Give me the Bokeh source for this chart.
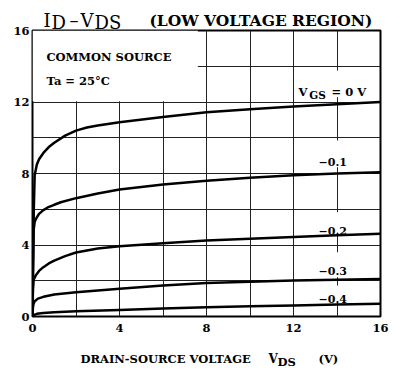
from bokeh.plotting import figure
from bokeh.models import Range1d, FixedTicker, Label
from bokeh.layouts import column
from bokeh.core.properties import value
from bokeh.embed import file_html
from bokeh.resources import INLINE

# ---- data ----
vds_0 = [0, 0.03, 0.06, 0.1, 0.2, 0.3, 0.5, 0.75, 1.0, 1.5, 2.0, 2.5, 3, 4, 6, 8, 10, 12, 14, 16]
id_0 = [0, 3.0, 6.0, 7.9, 8.5, 8.8, 9.15, 9.48, 9.72, 10.12, 10.4, 10.57, 10.69, 10.87, 11.16, 11.42, 11.6, 11.75, 11.88, 12.0]

vds_1 = [0, 0.02, 0.05, 0.1, 0.2, 0.3, 0.5, 0.7, 1.0, 1.3, 2.0, 3, 4, 6, 8, 10, 12, 14, 16]
id_1 = [0, 2.5, 4.8, 5.3, 5.55, 5.74, 5.95, 6.1, 6.25, 6.39, 6.62, 6.88, 7.1, 7.38, 7.6, 7.76, 7.9, 8.0, 8.07]

vds_2 = [0, 0.02, 0.05, 0.15, 0.3, 0.5, 0.75, 1.0, 1.5, 2.0, 3, 4, 6, 8, 10, 12, 14, 16]
id_2 = [0, 1.5, 2.05, 2.3, 2.55, 2.76, 2.97, 3.13, 3.38, 3.58, 3.8, 3.93, 4.1, 4.25, 4.35, 4.45, 4.55, 4.63]

vds_3 = [0, 0.02, 0.05, 0.1, 0.25, 0.5, 1.0, 2.0, 3, 4, 6, 8, 10, 12, 14, 16]
id_3 = [0, 0.5, 0.72, 0.85, 1.0, 1.1, 1.23, 1.36, 1.46, 1.55, 1.73, 1.88, 1.95, 2.01, 2.06, 2.1]

vds_4 = [0, 0.05, 0.2, 0.5, 1.0, 2.0, 4, 6, 8, 10, 12, 14, 16]
id_4 = [0, 0.08, 0.15, 0.2, 0.24, 0.3, 0.37, 0.45, 0.52, 0.57, 0.61, 0.67, 0.72]

curve_x = [vds_0, vds_1, vds_2, vds_3, vds_4]
curve_y = [id_0, id_1, id_2, id_3, id_4]
curve_labels = ["−0.1", "−0.2", "−0.3", "−0.4"]

x_ticks = [0, 4, 8, 12, 16]
y_ticks = [0, 4, 8, 12, 16]
grid_ticks = [2, 4, 6, 8, 10, 12, 14]

SERIF = "DejaVu Serif"
W = 400
PX = 16 / 348.0   # data units per pixel horizontally

def strip(height):
    f = figure(width=W, height=height, output_backend="svg", toolbar_location=None,
               x_range=Range1d(0, 16), y_range=Range1d(0, height),
               x_axis_location=None, y_axis_location=None,
               min_border_left=32, min_border_right=20, min_border_top=0, min_border_bottom=0,
               outline_line_color=None, background_fill_color="white", border_fill_color="white")
    f.grid.visible = False
    return f

def ttext(fig, px, y, t, size, bold):
    # px: horizontal position in pixels from the left of the canvas
    fig.text(x=[(px - 32) * PX], y=[y], text=[t], text_font=value(SERIF), text_font_size=size,
             text_font_style="bold" if bold else "normal", text_color="black",
             text_align="left", text_baseline="alphabetic")

# ---------------- title strip (page y 0..32) ----------------
top = strip(32)
ttext(top, 43, 12, "I", "18px", False)
ttext(top, 51, 10, "D", "18px", False)
ttext(top, 69, 12, "–", "18px", False)
ttext(top, 80, 12, "V", "18px", False)
ttext(top, 94, 10, "DS", "18px", False)
ttext(top, 149, 12, "(LOW VOLTAGE REGION)", "15.5px", True)

# ---------------- main plot (page y 23..342, frame 30..316) ----------------
p = figure(width=W, height=319, output_backend="svg", toolbar_location=None,
           x_range=Range1d(0, 16), y_range=Range1d(0, 16),
           min_border_left=32, min_border_right=20, min_border_top=7, min_border_bottom=26,
           background_fill_color="white", border_fill_color="white", border_fill_alpha=0,
           margin=(-9, 0, 0, 0))

p.outline_line_color = "black"
p.outline_line_width = 2
p.outline_line_alpha = 1

p.xaxis.ticker = FixedTicker(ticks=x_ticks)
p.yaxis.ticker = FixedTicker(ticks=y_ticks)
p.xgrid.ticker = FixedTicker(ticks=grid_ticks)
p.ygrid.ticker = FixedTicker(ticks=grid_ticks)
p.grid.grid_line_color = "#222222"
p.grid.grid_line_width = 1
p.grid.grid_line_alpha = 1

for ax in p.axis:
    ax.axis_line_color = None
    ax.major_tick_line_color = None
    ax.minor_tick_line_color = None
    ax.major_tick_out = 0
    ax.major_tick_in = 0
    ax.major_label_text_font = SERIF
    ax.major_label_text_font_style = "bold"
    ax.major_label_text_font_size = "11.5px"
    ax.major_label_text_color = "black"
p.yaxis.major_label_standoff = 3
p.xaxis.major_label_standoff = 7

p.quad(left=[0], right=[7.6], bottom=[12.04], top=[16], fill_color="white", line_color=None)
p.quad(left=[12.1, 13.0, 13.0, 13.0, 13.0], right=[15.5, 14.7, 14.7, 14.7, 14.7],
       bottom=[12.27, 8.35, 4.7, 2.2, 0.8], top=[13.76, 9.85, 5.83, 3.6, 1.73],
       fill_color="white", line_color=None)

for xs, ys in zip(curve_x, curve_y):
    p.line(xs, ys, line_color="black", line_width=2.5, line_join="round")

def lab(x, y, text, size, bold=True):
    p.add_layout(Label(x=x, y=y, text=text, text_font=SERIF, text_font_size=size,
                       text_font_style="bold" if bold else "normal", text_color="black",
                       text_align="left", text_baseline="alphabetic"))

lab(0.64, 14.5, "COMMON SOURCE", "11.5px")
lab(0.64, 13.15, "Ta = 25°C", "11.5px")

lab(12.23, 12.55, "V", "11.5px")
lab(12.72, 12.4, "GS", "10.5px")
lab(13.75, 12.55, "= 0 V", "11.5px")
for t, yy in zip(curve_labels, [8.63, 4.81, 2.57, 0.99]):
    lab(13.15, yy, t, "11px")

# ---------------- x-axis title strip (page y 342..372) ----------------
bot = strip(30)
ttext(bot, 80, 14, "DRAIN-SOURCE VOLTAGE", "11.5px", True)
ttext(bot, 268, 14, "V", "12px", True)
ttext(bot, 277, 11, "DS", "11.5px", True)
ttext(bot, 318, 14, "(V)", "11.5px", True)

layout = column(top, p, bot, spacing=0)
open("out.html", "w").write(file_html(layout, INLINE))
